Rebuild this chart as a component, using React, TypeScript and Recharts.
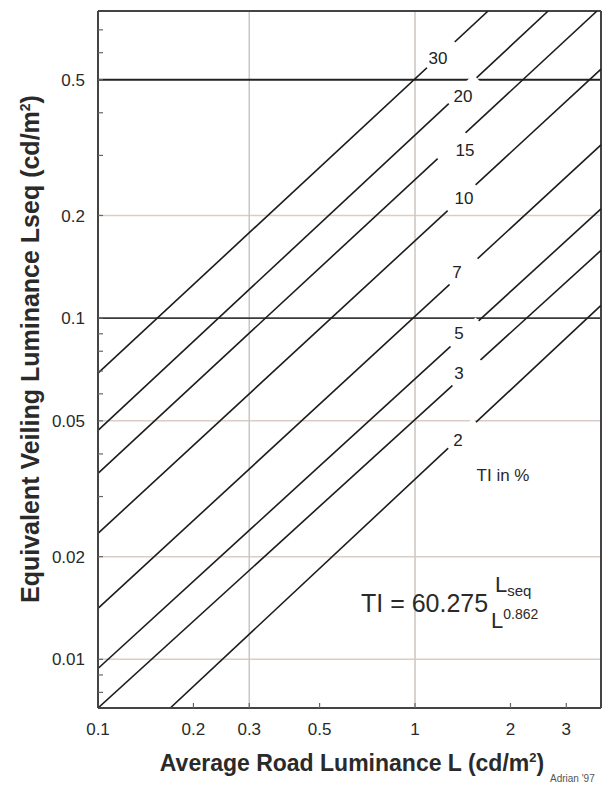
import React from 'react';
import { LineChart, Line, XAxis, YAxis, ReferenceLine, ReferenceDot } from 'recharts';

const FONT = '"Liberation Sans", Arial, sans-serif';

// TI curves, end points (L in cd/m², Lseq in cd/m²)
const tiLabels = ['30', '20', '15', '10', '7', '5', '3', '2'];
const startL = [0.1, 0.1, 0.1, 0.1, 0.1, 0.1, 0.1, 0.169];
const startLseq = [0.069, 0.0469, 0.0351, 0.0234, 0.0141, 0.0094, 0.0072, 0.0072];
const endL = [1.7, 2.63, 3.75, 3.86, 3.86, 3.86, 3.86, 3.86];
const endLseq = [0.795, 0.795, 0.795, 0.537, 0.322, 0.209, 0.158, 0.109];

// where each curve is broken for its label
const gapL = [1.208, 1.417, 1.308, 1.407, 1.428, 1.438, 1.449, 1.407];
const gapLseq = [0.5906, 0.4632, 0.3194, 0.2248, 0.1364, 0.0898, 0.0694, 0.0454];
const labelShift = [[-3, 3], [0, 5], [13, 4], [2, 0], [-7, 0], [-6, -1], [-7, 1], [-4, 5]];

const xTicks = [0.1, 0.2, 0.3, 0.5, 1, 2, 3];
const yTicks = [0.01, 0.02, 0.05, 0.1, 0.2, 0.5];
const yAllTicks = [0.008, 0.009, 0.01, 0.02, 0.03, 0.04, 0.05, 0.06, 0.07, 0.08, 0.09, 0.1, 0.2, 0.3, 0.4, 0.5, 0.6, 0.7];
const darkGridY = [0.5, 0.1];
const lightGridY = [0.2, 0.05, 0.02, 0.01];
const gridX = [0.3, 1];

const xDomain = [0.1, 3.86];
const yDomain = [0.0072, 0.795];

const series = tiLabels.map((ti, i) => ({
  ti,
  data: [
    { L: startL[i], v: startLseq[i] },
    { L: endL[i], v: endLseq[i] },
  ],
}));

// white strip along the curve direction, label text on top
function GapLabel(props: any) {
  const { cx, cy, text, shiftX, shiftY } = props;
  if (cx == null || cy == null) return null;
  const a = (43 * Math.PI) / 180;
  const ux = Math.cos(a);
  const uy = -Math.sin(a);
  const nx = Math.sin(a);
  const ny = Math.cos(a);
  const half = 19;
  const w = 5;
  const pts = [
    [cx - ux * half - nx * w, cy - uy * half - ny * w],
    [cx + ux * half - nx * w, cy + uy * half - ny * w],
    [cx + ux * half + nx * w, cy + uy * half + ny * w],
    [cx - ux * half + nx * w, cy - uy * half + ny * w],
  ]
    .map((p) => p.join(','))
    .join(' ');
  return (
    <g>
      <polygon points={pts} fill="#fff" />
      <text
        x={cx + shiftX}
        y={cy + shiftY}
        textAnchor="middle"
        dominantBaseline="central"
        fontSize={17}
        fontFamily={FONT}
        fill="#222"
      >
        {text}
      </text>
    </g>
  );
}

export default function App() {
  return (
    <div style={{ position: 'absolute', left: 0, top: 0, width: 604, height: 786, background: '#fff' }}>
      <LineChart width={604} height={786} margin={{ top: 11, right: 3, bottom: 0, left: 0 }}>
        <XAxis
          dataKey="L"
          type="number"
          scale="log"
          domain={xDomain}
          allowDataOverflow
          ticks={xTicks}
          interval={0}
          height={78}
          tickSize={-5}
          tickMargin={20}
          tickLine={{ stroke: '#666', strokeWidth: 1.2 }}
          axisLine={{ stroke: '#444', strokeWidth: 2 }}
          tick={{ fontSize: 17, fill: '#2a2a2a', fontFamily: FONT }}
          tickFormatter={(v: number) => String(v)}
        />
        <YAxis
          type="number"
          scale="log"
          domain={yDomain}
          allowDataOverflow
          ticks={yAllTicks}
          interval={0}
          width={98}
          tickSize={-5}
          tickMargin={18}
          tickLine={{ stroke: '#666', strokeWidth: 1.2 }}
          axisLine={{ stroke: '#444', strokeWidth: 2 }}
          tick={{ fontSize: 17, fill: '#2a2a2a', fontFamily: FONT }}
          tickFormatter={(v: number) => (yTicks.includes(v) ? String(v) : '')}
        />

        {lightGridY.map((v) => (
          <ReferenceLine key={'ly' + v} y={v} stroke="#d9cec7" strokeWidth={1.5} zIndex={0} />
        ))}
        {gridX.map((v) => (
          <ReferenceLine key={'gx' + v} x={v} stroke="#cdc5c0" strokeWidth={1.5} zIndex={0} />
        ))}
        {darkGridY.map((v) => (
          <ReferenceLine key={'dy' + v} y={v} stroke={v === 0.5 ? '#222' : '#3a3a3a'} strokeWidth={v === 0.5 ? 2 : 1.6} zIndex={0} />
        ))}
        <ReferenceLine y={yDomain[1]} stroke="#444" strokeWidth={2} ifOverflow="visible" zIndex={0} />
        <ReferenceLine x={xDomain[1]} stroke="#444" strokeWidth={2} ifOverflow="visible" zIndex={0} />

        {series.map((s) => (
          <Line
            key={s.ti}
            data={s.data}
            dataKey="v"
            type="linear"
            stroke="#1c1c1c"
            strokeWidth={1.6}
            dot={false}
            activeDot={false}
            isAnimationActive={false}
          />
        ))}

        {tiLabels.map((ti, i) => (
          <ReferenceDot
            key={'lab' + ti}
            x={gapL[i]}
            y={gapLseq[i]}
            zIndex={1500}
            shape={(p: any) => (
              <GapLabel cx={p.cx} cy={p.cy} text={ti} shiftX={labelShift[i][0]} shiftY={labelShift[i][1]} />
            )}
          />
        ))}
      </LineChart>

      <svg
        width={604}
        height={786}
        style={{ position: 'absolute', left: 0, top: 0, pointerEvents: 'none' }}
        fontFamily={FONT}
      >
        <text
          x={39}
          y={349}
          transform="rotate(-90, 39, 349)"
          textAnchor="middle"
          fontSize={25}
          fontWeight="bold"
          fill="#2a2a2a"
        >
          Equivalent Veiling Luminance Lseq (cd/m<tspan fontSize={14} dy={-9}>2</tspan><tspan dy={9}>)</tspan>
        </text>
        <text x={352} y={771} textAnchor="middle" fontSize={23} fontWeight="bold" fill="#2a2a2a">
          Average Road Luminance L (cd/m<tspan fontSize={13} dy={-9}>2</tspan><tspan dy={9}>)</tspan>
        </text>
        <text x={550} y={782} fontSize={10} fill="#555">Adrian '97</text>

        <text x={503} y={481} textAnchor="middle" fontSize={17} fill="#2a2a2a">TI in %</text>

        <text x={361} y={612} fontSize={25} fill="#2a2a2a">TI = 60.275</text>
        <text x={495} y={592} fontSize={22} fill="#2a2a2a">
          L<tspan fontSize={15} dy={4}>seq</tspan>
        </text>
        <text x={491} y={628} fontSize={22} fill="#2a2a2a">
          L<tspan fontSize={14} dy={-9}>0.862</tspan>
        </text>
      </svg>
    </div>
  );
}
